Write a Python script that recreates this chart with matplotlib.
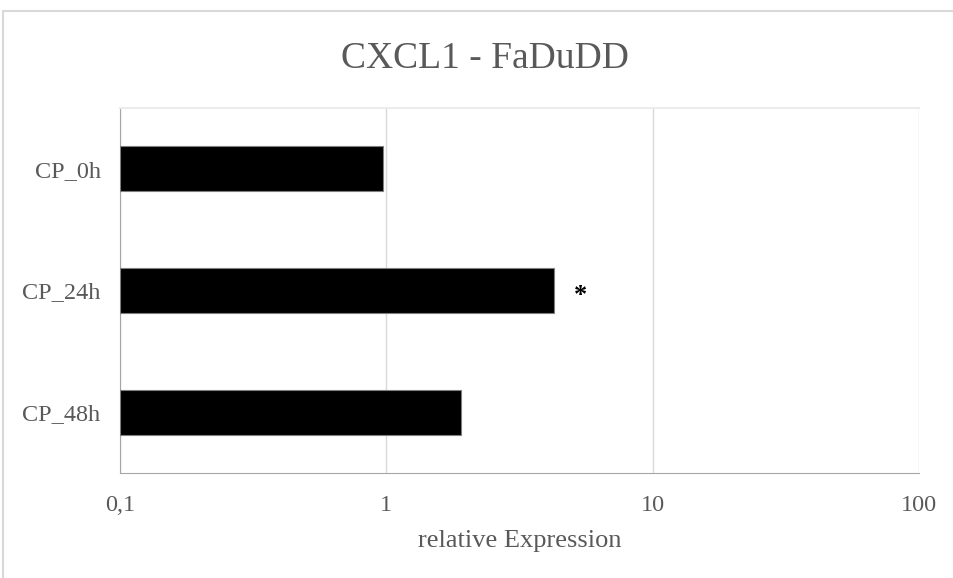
import matplotlib.pyplot as plt
from matplotlib.patches import Rectangle

categories = ['CP_0h', 'CP_24h', 'CP_48h']
values = [0.97, 4.25, 1.91]
marks = ['', '*', '']
xticks = [0.1, 1, 10, 100]
xticklabels = ['0,1', '1', '10', '100']

title = 'CXCL1 - FaDuDD'
xlab = 'relative Expression'
txt = '#595959'

plt.rcParams['font.family'] = ['Liberation Serif', 'DejaVu Serif']

fig = plt.figure(figsize=(9.54, 5.78), dpi=100)
ax = fig.add_axes([0.1258, 0.1817, 0.8375, 0.6314])

# chart area border (only top/left visible in the crop)
fig.patches.append(Rectangle((3 / 954, -0.1), 1.2, 1 - 11 / 578 + 0.1,
                             transform=fig.transFigure, fill=False,
                             edgecolor='#d9d9d9', linewidth=1.5))

xmin = xticks[0]
ypos = list(range(len(categories)))
ax.barh(ypos, [v - xmin for v in values], left=xmin, height=0.37,
        color='black', edgecolor='#7f7f7f', linewidth=0.8, zorder=3)

for y, v, m in zip(ypos, values, marks):
    if m:
        ax.text(v * 1.26, y + 0.04, m, ha='center', va='center', fontsize=19,
                fontweight='bold', color='black', zorder=4)

ax.set_xscale('log')
ax.set_xlim(xticks[0], xticks[-1])
ax.set_ylim(len(categories) - 0.5, -0.5)
ax.set_xticks(xticks)
ax.set_xticklabels(xticklabels)
ax.minorticks_off()
ax.set_yticks(ypos)
ax.set_yticklabels(categories)
ax.tick_params(axis='x', length=0, pad=16, labelsize=17.5, labelcolor=txt)
ax.tick_params(axis='y', length=0, pad=14, labelsize=17.5, labelcolor=txt)

ax.grid(axis='x', color='#d9d9d9', linewidth=1, zorder=0)
ax.set_axisbelow(True)
ax.spines['right'].set_visible(False)
ax.spines['top'].set_color('#ececec')
ax.spines['top'].set_linewidth(1.5)
ax.spines['left'].set_color('#a6a6a6')
ax.spines['bottom'].set_color('#a6a6a6')

ax.set_xlabel(xlab, fontsize=19, color=txt, labelpad=10)
fig.text(485 / 954, 1 - 59 / 578, title, ha='center', va='center',
         fontsize=27, color=txt)

fig.savefig('out.png', dpi=100)
